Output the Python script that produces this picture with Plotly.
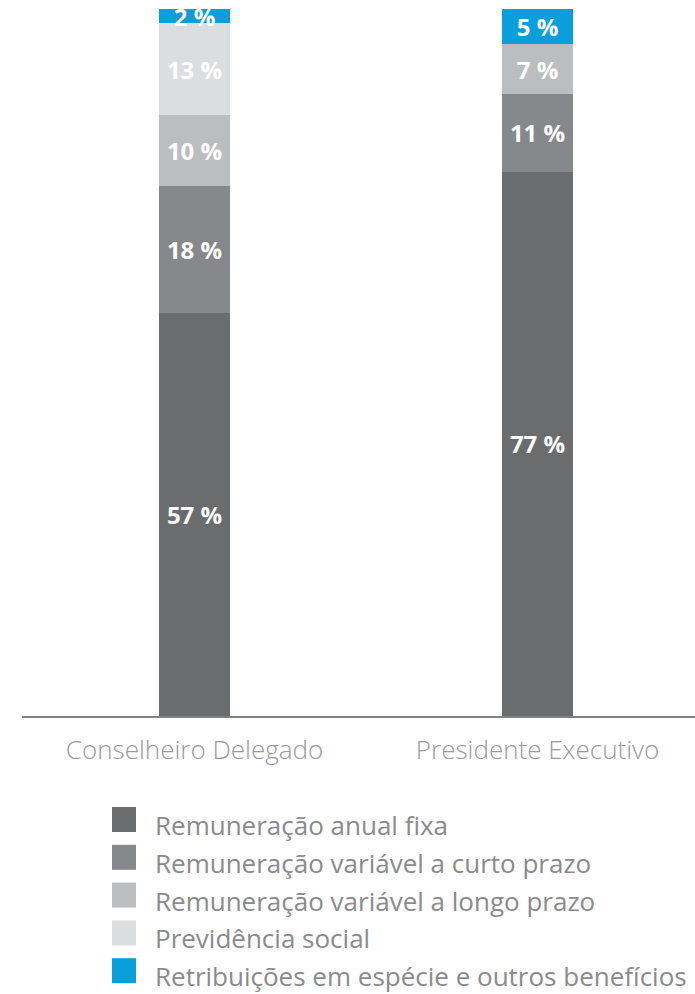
import plotly.graph_objects as go

categories = ["Conselheiro Delegado", "Presidente Executivo"]
series_names = [
    "Remuneração anual fixa",
    "Remuneração variável a curto prazo",
    "Remuneração variável a longo prazo",
    "Previdência social",
    "Retribuições em espécie e outros benefícios",
]
fixa = [57, 77]
variavel_curto = [18, 11]
variavel_longo = [10, 7]
previdencia = [13, 0]
especie = [2, 5]

series_values = [fixa, variavel_curto, variavel_longo, previdencia, especie]
colors = ["#6b6c6e", "#87888b", "#bcbdbf", "#dcdddf", "#0a9fda"]

FONT = "Open Sans, Arial, sans-serif"
W, H = 695, 994
M_L, M_R, M_T, M_B = 22, 0, 9, 994 - 716


def px_x(p):
    return (p - M_L) / (W - M_L - M_R)


def px_y(p):
    return (H - M_B - p) / (H - M_T - M_B)


fig = go.Figure()
for name, vals, color in zip(series_names, series_values, colors):
    fig.add_trace(go.Bar(
        x=[0, 1],
        y=vals,
        name=name,
        marker=dict(color=color, line=dict(width=0)),
        width=0.207,
        text=[f"{v} %" if v else "" for v in vals],
        textposition="inside",
        insidetextanchor="middle",
        constraintext="none",
        cliponaxis=False,
        textfont=dict(family=FONT, size=24, color="white", weight=700),
        showlegend=False,
        hoverinfo="skip",
    ))

# legend drawn by hand so the swatches can be as large as in the original
for i, (name, color) in enumerate(zip(series_names, colors)):
    top = 807 + i * 37.8
    fig.add_shape(
        type="rect", xref="paper", yref="paper",
        x0=px_x(112), x1=px_x(136), y0=px_y(top), y1=px_y(top + 25),
        fillcolor=color, line=dict(width=0),
    )
    fig.add_annotation(
        text=name, xref="paper", yref="paper",
        x=px_x(153), y=px_y(top + 18), xanchor="left", yanchor="middle",
        showarrow=False, font=dict(family=FONT, size=26, color="#8a8b8d"),
    )

fig.update_layout(
    barmode="stack",
    width=W, height=H,
    margin=dict(l=M_L, r=M_R, t=M_T, b=M_B),
    paper_bgcolor="white",
    plot_bgcolor="white",
    font=dict(family=FONT),
)
# x range chosen so bar centres land at x 194.5 and 537.5
fig.update_xaxes(
    range=[-0.503, 1.459],
    tickvals=[0, 1],
    ticktext=categories,
    showline=True, linecolor="#828385", linewidth=2,
    showgrid=False, zeroline=False,
    ticks="", ticklabelstandoff=10,
    tickfont=dict(family=FONT, size=26, color="#9a9b9d", weight=300),
)
fig.update_yaxes(range=[0, 100], visible=False)

# drop the default body margin so the figure fills the window exactly
fig.write_html(
    "out.html",
    config={"displayModeBar": False},
    post_script="document.body.style.margin='0';document.body.style.overflow='hidden';",
)
